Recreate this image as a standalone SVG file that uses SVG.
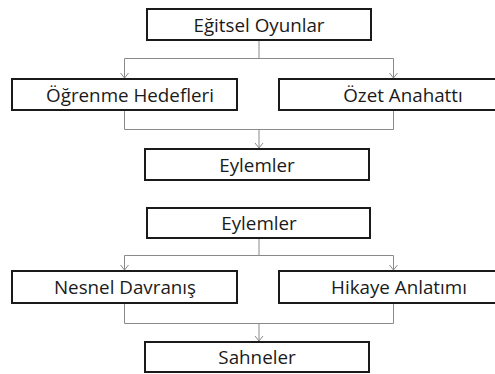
<svg xmlns="http://www.w3.org/2000/svg" width="495" height="374" viewBox="0 0 495 374">
  <style>
    .box { fill: #ffffff; stroke: #1a1a1a; stroke-width: 2; }
    .lbl { font-family: "Open Sans", "Noto Sans", "Liberation Sans", sans-serif; font-size: 18.8px; fill: #1a1a1a; text-anchor: middle; }
    .link { fill: none; stroke: #8a8a8a; stroke-width: 1; }
  </style>
  <defs>
    <marker id="arrow" viewBox="0 0 10 10" refX="9" refY="5" markerWidth="10" markerHeight="10" markerUnits="userSpaceOnUse" orient="auto">
      <path d="M4,1 L9,5 L4,9" fill="none" stroke="#8a8a8a" stroke-width="1"/>
    </marker>
  </defs>
  <rect width="495" height="374" fill="#ffffff"/>

  <g id="connectors">
    <!-- upper tree -->
    <path class="link" d="M259,40 V58.5"/>
    <path class="link" d="M124.5,58.5 H393.5"/>
    <path class="link" d="M124.5,58.5 V78" marker-end="url(#arrow)"/>
    <path class="link" d="M393.5,58.5 V78" marker-end="url(#arrow)"/>
    <path class="link" d="M124.5,110 V129.5 H393.5 V110"/>
    <path class="link" d="M259,129.5 V148" marker-end="url(#arrow)"/>
    <!-- lower tree -->
    <path class="link" d="M259,238 V255.5"/>
    <path class="link" d="M124.5,255.5 H393.5"/>
    <path class="link" d="M124.5,255.5 V270" marker-end="url(#arrow)"/>
    <path class="link" d="M393.5,255.5 V270" marker-end="url(#arrow)"/>
    <path class="link" d="M124.5,303 V323.5 H393.5 V303"/>
    <path class="link" d="M259,323.5 V341" marker-end="url(#arrow)"/>
  </g>

  <g id="egitsel-oyunlar">
    <rect class="box" x="147" y="9" width="224" height="31"/>
    <text class="lbl" x="259" y="32">Eğitsel Oyunlar</text>
  </g>
  <g id="ogrenme-hedefleri">
    <rect class="box" x="12" y="79" width="225" height="31"/>
    <text class="lbl" x="130" y="102">Öğrenme Hedefleri</text>
  </g>
  <g id="ozet-anahatti">
    <rect class="box" x="279" y="79" width="230" height="31"/>
    <text class="lbl" x="403" y="102">Özet Anahattı</text>
  </g>
  <g id="eylemler-1">
    <rect class="box" x="145" y="149" width="224" height="31"/>
    <text class="lbl" x="257" y="172">Eylemler</text>
  </g>

  <g id="eylemler-2">
    <rect class="box" x="147" y="208" width="223" height="30"/>
    <text class="lbl" x="259" y="230">Eylemler</text>
  </g>
  <g id="nesnel-davranis">
    <rect class="box" x="12" y="271" width="225" height="32"/>
    <text class="lbl" x="125" y="294">Nesnel Davranış</text>
  </g>
  <g id="hikaye-anlatimi">
    <rect class="box" x="279" y="271" width="230" height="32"/>
    <text class="lbl" x="399" y="294">Hikaye Anlatımı</text>
  </g>
  <g id="sahneler">
    <rect class="box" x="145" y="342" width="224" height="30"/>
    <text class="lbl" x="257" y="364">Sahneler</text>
  </g>
</svg>
